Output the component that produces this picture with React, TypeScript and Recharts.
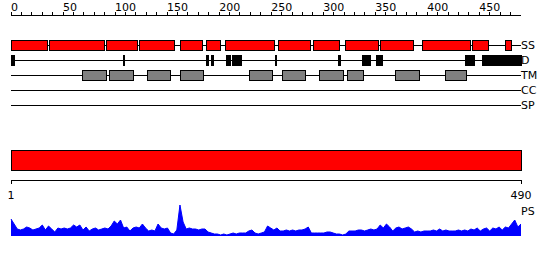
import React from 'react';
import { ComposedChart, AreaChart, Area, XAxis, YAxis, ReferenceArea, ReferenceLine } from 'recharts';

const SEQ_LENGTH = 490;
const TOP_TICKS = [0, 10, 20, 30, 40, 50, 60, 70, 80, 90, 100, 110, 120, 130, 140, 150, 160, 170, 180, 190, 200, 210, 220, 230, 240, 250, 260, 270, 280, 290, 300, 310, 320, 330, 340, 350, 360, 370, 380, 390, 400, 410, 420, 430, 440, 450, 460, 470, 480];
const BOTTOM_TICKS = [1, 490];
const TRACK_NAMES = ['SS', 'D', 'TM', 'CC', 'SP'];

const SS_SEGMENTS: [number, number][] = [
  [0, 35], [37, 90], [92, 122], [123, 157], [163, 184], [188, 201], [206, 253],
  [257, 288], [291, 316], [321, 353], [355, 387], [395, 441], [443, 459], [475, 481],
];
const D_SEGMENTS: [number, number][] = [
  [0, 3], [108, 109.3], [188, 189.5], [193, 195], [207, 211], [213, 221], [254, 255.3],
  [315, 316.3], [338, 345.5], [351, 357], [437, 445], [453, 490],
];
const TM_SEGMENTS: [number, number][] = [
  [69, 92], [95, 118], [131, 153], [163, 185], [229, 251], [261, 283], [296, 319],
  [323, 339], [369, 392], [417, 438],
];

const PS_STEP = 3;
const PS_VALUES = [
  17, 12, 7, 6, 7, 9, 8, 6, 7, 8, 11, 6, 10, 7, 4, 8, 7, 8, 7, 8,
  11, 9, 11, 6, 9, 5, 7, 8, 6, 7, 8, 7, 10, 15, 12, 16, 8, 9, 5, 8,
  9, 8, 12, 8, 5, 6, 5, 12, 8, 7, 8, 3, 2, 6, 31, 14, 7, 8, 7, 7,
  6, 7, 7, 4, 3, 2, 2, 1, 2, 1, 2, 3, 2, 3, 3, 3, 5, 6, 3, 2,
  3, 4, 10, 8, 6, 8, 5, 5, 6, 5, 6, 5, 6, 6, 7, 9, 3, 3, 3, 3,
  3, 4, 4, 3, 2, 2, 1, 2, 5, 5, 5, 6, 6, 5, 6, 7, 6, 7, 11, 8,
  12, 9, 5, 8, 9, 7, 8, 9, 7, 4, 5, 4, 5, 5, 5, 6, 5, 7, 5, 6,
  5, 5, 5, 6, 5, 6, 5, 7, 6, 8, 5, 7, 8, 5, 8, 7, 9, 6, 9, 8,
  12, 16, 9, 12,
];
const psData = PS_VALUES.map((v, i) => ({ pos: 1 + i * PS_STEP, v }));

const FONT = '"DejaVu Sans", sans-serif';
const TRACK_FEATURES: { segs: [number, number][]; fill: string }[] = [
  { segs: SS_SEGMENTS, fill: '#ff0000' },
  { segs: D_SEGMENTS, fill: '#000000' },
  { segs: TM_SEGMENTS, fill: '#808080' },
  { segs: [], fill: '#000' },
  { segs: [], fill: '#000' },
];

const TopTick = (props: any) => {
  const { x, y, payload } = props;
  if (payload.value % 50 !== 0) return null;
  return (
    <text x={x} y={y - 1} textAnchor="start" fontSize={11} fill="#000" fontFamily={FONT}>
      {payload.value}
    </text>
  );
};

export default function App() {
  const frameData = [
    { pos: 0, row: 0 },
    { pos: SEQ_LENGTH, row: 7 },
  ];
  return (
    <div style={{ position: 'absolute', left: 0, top: 0, width: 550, height: 260, background: '#fff', fontFamily: FONT }}>
      <div style={{ position: 'absolute', left: 0, top: 0 }}>
        <ComposedChart width={550} height={120} margin={{ top: 0, right: 29, bottom: 0, left: 11 }} data={frameData}>
          <XAxis
            type="number"
            dataKey="pos"
            orientation="top"
            domain={[0, SEQ_LENGTH]}
            ticks={TOP_TICKS}
            interval={0}
            height={15}
            tickSize={3}
            tickMargin={0}
            allowDataOverflow
            axisLine={{ stroke: '#000', shapeRendering: 'crispEdges' }}
            tickLine={{ stroke: '#000', shapeRendering: 'crispEdges' }}
            tick={<TopTick />}
          />
          <YAxis type="number" dataKey="row" domain={[0, 7]} reversed hide allowDataOverflow />
          {TRACK_NAMES.map((name, i) => (
            <ReferenceArea
              key={'line-' + name}
              x1={0}
              x2={SEQ_LENGTH}
              y1={i + 2}
              y2={i + 2 + 1 / 15}
              fill="#000"
              fillOpacity={1}
              stroke="none"
              shapeRendering="crispEdges"
              label={{ value: name, position: 'right', offset: 0, fill: '#000', fontSize: 11, fontFamily: FONT }}
            />
          ))}
          {TRACK_FEATURES.map((t, i) =>
            t.segs.map(([s, e], j) => (
              <ReferenceArea
                key={`f-${i}-${j}`}
                x1={s}
                x2={e}
                y1={i + 2 - 1 / 3}
                y2={i + 2 + 1 / 3}
                fill={t.fill}
                fillOpacity={1}
                stroke="#000"
                strokeWidth={1}
                shapeRendering="crispEdges"
              />
            ))
          )}
        </ComposedChart>
      </div>
      <div style={{ position: 'absolute', left: 0, top: 140 }}>
        <ComposedChart width={550} height={75} margin={{ top: 0, right: 29, bottom: 0, left: 11 }} data={psData}>
          <XAxis
            type="number"
            dataKey="pos"
            domain={[1, SEQ_LENGTH]}
            ticks={BOTTOM_TICKS}
            interval={0}
            height={35}
            tickSize={4}
            tickMargin={7}
            allowDataOverflow
            axisLine={{ stroke: '#000', shapeRendering: 'crispEdges' }}
            tickLine={{ stroke: '#000', shapeRendering: 'crispEdges' }}
            tick={{ fill: '#000', fontSize: 11, fontFamily: FONT }}
          />
          <YAxis type="number" dataKey="v" domain={[0, 4]} reversed hide allowDataOverflow />
          <ReferenceArea
            x1={1}
            x2={SEQ_LENGTH}
            y1={1}
            y2={3}
            fill="#ff0000"
            fillOpacity={1}
            stroke="#000"
            strokeWidth={1}
            shapeRendering="crispEdges"
          />
        </ComposedChart>
      </div>
      <div style={{ position: 'absolute', left: 0, top: 203 }}>
        <AreaChart width={550} height={33} margin={{ top: 0, right: 29, bottom: 0, left: 11 }} data={psData}>
          <XAxis type="number" dataKey="pos" domain={[1, SEQ_LENGTH]} hide />
          <YAxis type="number" dataKey="v" domain={[0, 33]} hide allowDataOverflow />
          <Area
            type="linear"
            dataKey="v"
            stroke="#0000ff"
            strokeWidth={1}
            fill="#0000ff"
            fillOpacity={1}
            dot={false}
            activeDot={false}
            isAnimationActive={false}
          />
          <ReferenceLine
            y={25}
            stroke="#000"
            strokeOpacity={0}
            label={{ value: 'PS', position: 'right', offset: 0, fill: '#000', fontSize: 11, fontFamily: FONT }}
          />
        </AreaChart>
      </div>
    </div>
  );
}
